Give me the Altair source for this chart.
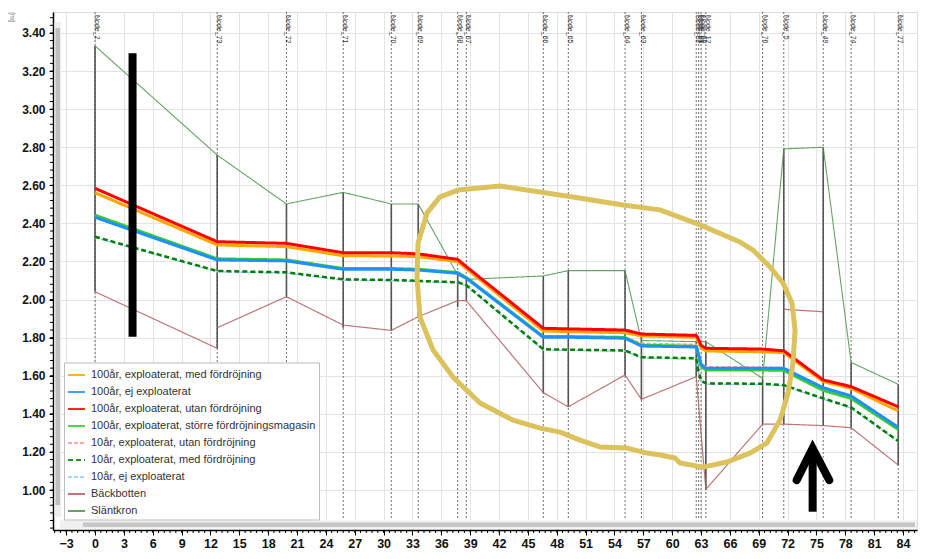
import altair as alt
import pandas as pd

# ---------------- data ----------------
node_names = ["Node_2", "Node_73", "Node_72", "Node_71", "Node_70", "Node_69", "Node_68", "Node_67",
              "Node_66", "Node_65", "Node_64", "Node_63", "Node_62", "Node_61", "Node_60", "Node_12",
              "Node_76", "Node_5", "Node_49", "Node_74", "Node_77"]
node_x = [0, 12.7, 19.9, 25.8, 30.8, 33.6, 37.7, 38.6, 46.6, 49.2, 55.1, 56.8, 62.5, 62.75, 63.0, 63.5,
          69.4, 71.6, 75.7, 78.6, 83.5]

s_med100 = [2.561, 2.287, 2.278, 2.230, 2.229, 2.225, 2.199, 2.162, 1.835, 1.832, 1.826, 1.809, 1.802,
            1.775, 1.745, 1.730, 1.726, 1.721, 1.569, 1.534, 1.415]
s_ej100 = [2.432, 2.208, 2.203, 2.159, 2.159, 2.155, 2.138, 2.112, 1.802, 1.802, 1.797, 1.756, 1.751,
           1.710, 1.660, 1.639, 1.639, 1.639, 1.537, 1.494, 1.329]
s_utan100 = [2.584, 2.304, 2.295, 2.246, 2.246, 2.240, 2.211, 2.173, 1.849, 1.846, 1.840, 1.819, 1.812,
             1.790, 1.760, 1.744, 1.740, 1.731, 1.578, 1.543, 1.437]
s_storre100 = [2.443, 2.214, 2.208, 2.163, 2.163, 2.159, 2.142, 2.116, 1.806, 1.806, 1.801, 1.760, 1.755,
               1.705, 1.650, 1.630, 1.630, 1.628, 1.523, 1.481, 1.318]
s_utan10 = [2.440, 2.212, 2.206, 2.163, 2.162, 2.158, 2.140, 2.114, 1.808, 1.807, 1.802, 1.770, 1.765,
            1.720, 1.668, 1.648, 1.646, 1.643, 1.540, 1.498, 1.333]
s_med10 = [2.330, 2.150, 2.143, 2.106, 2.103, 2.098, 2.091, 2.076, 1.739, 1.737, 1.733, 1.697, 1.692,
           1.620, 1.575, 1.560, 1.558, 1.551, 1.481, 1.434, 1.257]
s_ej10 = [2.325, 2.146, 2.139, 2.102, 2.099, 2.094, 2.087, 2.072, 1.735, 1.733, 1.729, 1.693, 1.688,
          1.615, 1.570, 1.555, 1.554, 1.547, 1.477, 1.430, 1.253]

slant_x = [0, 12.7, 19.9, 25.8, 30.8, 33.6, 37.7, 38.6, 46.6, 49.2, 55.1, 56.8, 62.5, 63.5, 69.4, 71.6, 75.7, 78.6, 83.5]
slant_y = [3.332, 2.759, 2.502, 2.563, 2.502, 2.502, 2.129, 2.106, 2.124, 2.152, 2.152, 1.785, 1.779, 1.779,
           1.586, 2.791, 2.800, 1.670, 1.555]

back_seg = ["a", "a", "b", "b", "b", "b", "b", "b", "b", "b", "b", "b", "b", "b", "b", "b", "b", "b", "b", "b", "c", "c"]
back_x = [0, 12.7, 12.7, 19.9, 25.8, 30.8, 33.6, 37.7, 38.6, 46.6, 49.2, 55.1, 56.8, 62.5, 63.5, 69.4, 71.6,
          75.7, 78.6, 83.5, 71.6, 75.7]
back_y = [2.041, 1.744, 1.852, 2.015, 1.866, 1.838, 1.910, 1.994, 1.994, 1.511, 1.437, 1.604, 1.476, 1.595,
          1.003, 1.346, 1.346, 1.338, 1.327, 1.131, 1.949, 1.936]

# vertical manhole lines (bottom -> top)
well_x = [0, 12.7, 19.9, 25.8, 30.8, 33.6, 37.7, 38.6, 46.6, 49.2, 55.1, 56.8, 62.5, 63.5, 69.4, 71.6, 75.7, 78.6, 83.5]
well_lo = [2.041, 1.744, 2.015, 1.852, 1.838, 1.910, 1.960, 1.994, 1.511, 1.437, 1.604, 1.476, 1.595, 1.003,
           1.346, 1.346, 1.338, 1.327, 1.131]
well_hi = [3.332, 2.759, 2.502, 2.563, 2.502, 2.502, 2.129, 2.106, 2.124, 2.152, 2.152, 1.826, 1.779, 1.779,
           1.586, 2.791, 2.800, 1.670, 1.555]

series_names = ["100år, exploaterat, med fördröjning", "100år, ej exploaterat",
                "100år, exploaterat, utan fördröjning", "100år, exploaterat, större fördröjningsmagasin",
                "10år, exploaterat, utan fördröjning", "10år, exploaterat, med fördröjning",
                "10år, ej exploaterat", "Bäckbotten", "Släntkron"]
series_colors = ["#FFA500", "#1E90FF", "#FF0000", "#33CC33", "#FF9A9A", "#008000", "#9CCBFF", "#B06060", "#4A944A"]
series_dash = [[1, 0], [1, 0], [1, 0], [1, 0], [4, 2], [5, 3], [4, 2], [1, 0], [1, 0]]
series_width = [3, 3, 3, 3, 1.5, 2.5, 1.5, 1.2, 1.1]

# hand-drawn annotations (in data units)
loop_x = [35.86, 37.73, 42.10, 49.69, 54.89, 58.73, 62.89, 67.05, 68.40, 70.17, 71.52, 72.45, 72.77, 72.56,
          72.04, 71.21, 69.85, 68.09, 65.70, 63.20, 60.81, 60.29, 58.73, 57.38, 55.30, 52.49, 50.42, 48.34,
          46.26, 43.45, 40.02, 37.21, 35.14, 33.78, 33.47, 33.58, 34.51, 35.86]
loop_y = [2.539, 2.575, 2.596, 2.539, 2.497, 2.471, 2.392, 2.302, 2.260, 2.171, 2.087, 1.982, 1.840, 1.667,
          1.509, 1.367, 1.247, 1.194, 1.147, 1.120, 1.142, 1.168, 1.184, 1.194, 1.220, 1.226, 1.262, 1.304,
          1.325, 1.367, 1.457, 1.593, 1.735, 1.908, 2.118, 2.297, 2.455, 2.539]
bar_x, bar_y1, bar_y2 = 3.9, 3.293, 1.805
arrow_x = [72.94, 74.6, 76.33]
arrow_y = [1.052, 1.219, 1.052]
shaft_x, shaft_y1, shaft_y2 = 74.6, 1.219, 0.886

x_ticks = list(range(-3, 85, 3))
y_ticks = [1.0, 1.2, 1.4, 1.6, 1.8, 2.0, 2.2, 2.4, 2.6, 2.8, 3.0, 3.2, 3.4]

# ---------------- layout ----------------
W, H = 864, 518
XMIN, XMAX = -4.37, 85.45
YMIN, YMAX = 0.79, 3.51

xs = alt.Scale(domain=[XMIN, XMAX], nice=False, zero=False)
ys = alt.Scale(domain=[YMIN, YMAX], nice=False, zero=False)

FONT = "Liberation Sans"
xaxis = alt.Axis(values=x_ticks, format="d", title=None, grid=True, gridColor="#E3E3E3",
                 tickSize=5, tickColor="#000", domainColor="#000", domainWidth=1.5,
                 labelFont="Liberation Sans Narrow, Liberation Sans", labelFontSize=12.5, labelFontWeight="bold",
                 labelColor="#111", labelPadding=2, labelFlush=False)
yaxis = alt.Axis(values=y_ticks, format=".2f", title=None, grid=True, gridColor="#E3E3E3",
                 tickSize=4, tickColor="#000", domainColor="#000", domainWidth=1.5,
                 labelFont=FONT, labelFontSize=12, labelFontWeight="bold", labelColor="#111",
                 labelPadding=4, labelFlush=False)


def X(field="x", **kw):
    return alt.X(field, type="quantitative", scale=xs, axis=xaxis, **kw)


def Y(field="y", **kw):
    return alt.Y(field, type="quantitative", scale=ys, axis=yaxis, **kw)


# long-form profile table
rows = []
profile_vals = {
    series_names[0]: s_med100, series_names[1]: s_ej100, series_names[2]: s_utan100,
    series_names[3]: s_storre100, series_names[4]: s_utan10, series_names[5]: s_med10,
    series_names[6]: s_ej10,
}
for name, vals in profile_vals.items():
    for i, (xv, yv) in enumerate(zip(node_x, vals)):
        rows.append({"series": name, "seg": "p", "ord": i, "x": xv, "y": yv})
for i, (xv, yv) in enumerate(zip(slant_x, slant_y)):
    rows.append({"series": "Släntkron", "seg": "s", "ord": i, "x": xv, "y": yv})
for i, (sg, xv, yv) in enumerate(zip(back_seg, back_x, back_y)):
    rows.append({"series": "Bäckbotten", "seg": sg, "ord": i, "x": xv, "y": yv})
prof = pd.DataFrame(rows)

legend = alt.Legend(title=None, orient="none", legendX=11, legendY=350.5, symbolType="stroke",
                    symbolSize=289, symbolStrokeWidth=2, labelFont=FONT, labelFontSize=11,
                    labelColor="#333", rowPadding=2, padding=3, strokeColor="#BDBDBD",
                    fillColor="white", labelLimit=400, labelOffset=5, cornerRadius=0)
color = alt.Color("series:N", scale=alt.Scale(domain=series_names, range=series_colors), legend=legend)
dash = alt.StrokeDash("series:N", scale=alt.Scale(domain=series_names, range=series_dash), legend=legend)

layers = []

# scrollbars (UI chrome)
chrome = pd.DataFrame({"k": [0]})
layers.append(alt.Chart(chrome).mark_rect(color="#F0F0F0").encode(
    x=alt.value(7), x2=alt.value(W), y=alt.value(508.5), y2=alt.value(516.5)))
layers.append(alt.Chart(chrome).mark_rect(color="#C6C6C6").encode(
    x=alt.value(30), x2=alt.value(W - 2), y=alt.value(510.5), y2=alt.value(515)))
layers.append(alt.Chart(chrome).mark_rect(color="#EEEEEE").encode(
    x=alt.value(1.5), x2=alt.value(8), y=alt.value(10), y2=alt.value(505)))
layers.append(alt.Chart(chrome).mark_rect(color="#BFBFBF").encode(
    x=alt.value(2.5), x2=alt.value(7), y=alt.value(16), y2=alt.value(493)))

# node dashed lines
nodes_df = pd.DataFrame({"name": node_names, "x": node_x})
layers.append(alt.Chart(nodes_df).mark_rule(color="#707070", strokeWidth=1, strokeDash=[2, 2]).encode(
    x=X(), y=alt.value(0), y2=alt.value(H - 10)))
layers.append(alt.Chart(nodes_df).mark_text(angle=90, align="left", baseline="alphabetic", fontSize=7,
                                            font=FONT, color="#333").encode(
    x=X(), y=alt.value(3), text="name:N"))

# manhole verticals
wells = pd.DataFrame({"x": well_x, "lo": well_lo, "hi": well_hi})
layers.append(alt.Chart(wells).mark_rule(color="#555", strokeWidth=1.6).encode(
    x=X(), y=Y("lo"), y2="hi:Q"))

draw_order = ["Släntkron", "Bäckbotten", series_names[4], series_names[3], series_names[1],
              series_names[0], series_names[2], series_names[6], series_names[5]]
for name in draw_order:
    w = series_width[series_names.index(name)]
    op = 0.85 if name in ("Bäckbotten", "Släntkron") else 1
    layers.append(alt.Chart(prof).transform_filter(alt.datum.series == name).mark_line(
        strokeWidth=w, opacity=op, strokeJoin="round").encode(
        x=X(), y=Y(), color=color, strokeDash=dash, detail="seg:N", order=alt.Order("ord:Q")))

# annotations
loop_df = pd.DataFrame({"x": loop_x, "y": loop_y, "ord": list(range(len(loop_x)))})
layers.append(alt.Chart(loop_df).mark_line(color="#DCC25C", strokeWidth=5, strokeJoin="round",
                                           strokeCap="round").encode(
    x=X(), y=Y(), order=alt.Order("ord:Q")))
bar_df = pd.DataFrame({"x": [bar_x, shaft_x], "y": [bar_y1, shaft_y1], "y2": [bar_y2, shaft_y2]})
layers.append(alt.Chart(bar_df).mark_rule(color="#000", strokeWidth=8).encode(
    x=X(), y=Y(), y2="y2:Q"))
arrow_df = pd.DataFrame({"x": arrow_x, "y": arrow_y, "ord": [0, 1, 2]})
layers.append(alt.Chart(arrow_df).mark_line(color="#000", strokeWidth=8, strokeJoin="miter",
                                            strokeCap="round").encode(
    x=X(), y=Y(), order=alt.Order("ord:Q")))

# minor ticks
minor_x = [round(-4.2 + 0.6 * i, 2) for i in range(150) if -4.2 + 0.6 * i <= 85.3]
minor_y = [round(0.8 + 0.04 * i, 2) for i in range(70) if 0.8 + 0.04 * i <= 3.5]
layers.append(alt.Chart(pd.DataFrame({"x": minor_x})).mark_rule(color="#000", strokeWidth=1).encode(
    x=X(), y=alt.value(H), y2=alt.value(H + 3)))
layers.append(alt.Chart(pd.DataFrame({"y": minor_y})).mark_rule(color="#000", strokeWidth=1).encode(
    y=Y(), x=alt.value(-3), x2=alt.value(0)))

# unit label
layers.append(alt.Chart(chrome).mark_text(text="[m]", angle=90, fontSize=7, font=FONT, color="#777",
                                          align="center", baseline="middle").encode(
    x=alt.value(-41), y=alt.value(5)))

chart = alt.layer(*layers).properties(
    width=W, height=H, autosize=alt.AutoSizeParams(type="none"),
    padding={"left": 45, "top": 4, "right": 2, "bottom": 20}
).configure_view(stroke="#C8C8C8").configure(background="white")

chart.save("out.html", embed_options={"renderer": "svg", "actions": False})
